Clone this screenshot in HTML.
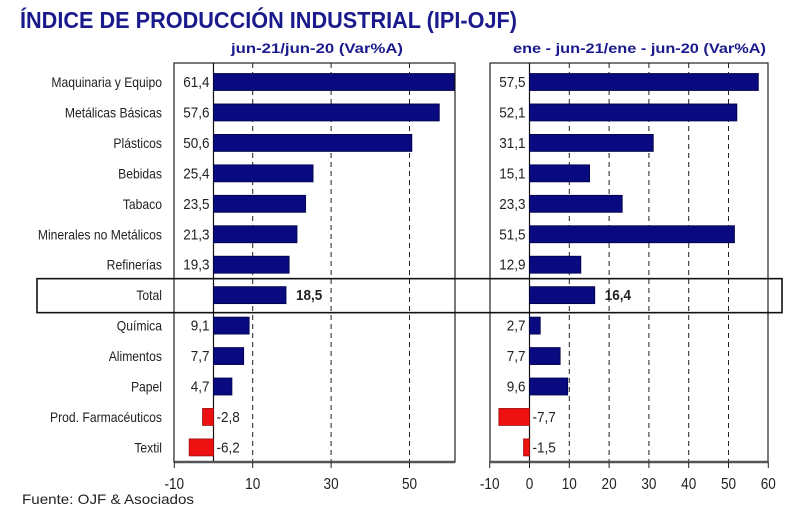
<!DOCTYPE html>
<html><head><meta charset="utf-8"><style>
body{margin:0;background:#fff;}
svg{display:block;font-family:"Liberation Sans",Arial,sans-serif;}
</style></head><body>
<svg id="c" width="800" height="526" viewBox="0 0 800 526">
<text x="20" y="28" font-size="23" font-weight="bold" fill="#1a1a8c" textLength="497" lengthAdjust="spacingAndGlyphs">ÍNDICE DE PRODUCCIÓN INDUSTRIAL (IPI-OJF)</text>
<text x="231" y="53" font-size="14" font-weight="bold" fill="#1a1a8c" textLength="172" lengthAdjust="spacingAndGlyphs">jun-21/jun-20  (Var%A)</text>
<text x="513" y="53" font-size="14" font-weight="bold" fill="#1a1a8c" textLength="253" lengthAdjust="spacingAndGlyphs">ene - jun-21/ene - jun-20  (Var%A)</text>
<g id="g"></g>
<text x="22" y="504" font-size="14" fill="#222" textLength="172" lengthAdjust="spacingAndGlyphs">Fuente: OJF &amp; Asociados</text>
</svg>
<script>
const categories=["Maquinaria y Equipo","Metálicas Básicas","Plásticos","Bebidas","Tabaco","Minerales no Metálicos","Refinerías","Total","Química","Alimentos","Papel","Prod. Farmacéuticos","Textil"];
const leftValues=[61.4,57.6,50.6,25.4,23.5,21.3,19.3,18.5,9.1,7.7,4.7,-2.8,-6.2];
const rightValues=[57.5,52.1,31.1,15.1,23.3,51.5,12.9,16.4,2.7,7.7,9.6,-7.7,-1.5];
const leftLabels=["61,4","57,6","50,6","25,4","23,5","21,3","19,3","18,5","9,1","7,7","4,7","-2,8","-6,2"];
const rightLabels=["57,5","52,1","31,1","15,1","23,3","51,5","12,9","16,4","2,7","7,7","9,6","-7,7","-1,5"];
const leftTicks=[-10,10,30,50];
const leftGrid=[10,30,50];
const rightTicks=[-10,0,10,20,30,40,50,60];
const rightGrid=[10,20,30,40,50];
const totalIndex=7;
const NS="http://www.w3.org/2000/svg";
const g=document.getElementById('g');
function el(t,a,txt,parent){const e=document.createElementNS(NS,t);for(const k in a)e.setAttribute(k,a[k]);if(txt!==undefined)e.textContent=txt;(parent||g).appendChild(e);return e;}
const top0=63,bot=462,rowY0=82,step=30.45,barH=17;
function rowY(i){return rowY0+i*step;}
function narrowText(x,y,size,anchor,txt,sx,weight){
 const w=el('g',{transform:`translate(${x},${y}) scale(${sx},1)`});
 return el('text',{x:0,y:0,'font-size':size,'text-anchor':anchor,fill:'#222','font-weight':weight||'normal'},txt,w);
}
const panels=[
 {name:'left',x0:174,x1:455,zero:213.5,s:3.92,vals:leftValues,labs:leftLabels,ticks:leftTicks,grid:leftGrid},
 {name:'right',x0:490,x1:768,zero:529.5,s:3.98,vals:rightValues,labs:rightLabels,ticks:rightTicks,grid:rightGrid}
];
panels.forEach(p=>{
 const X=v=>p.zero+v*p.s;
 let e=el('rect',{x:p.x0,y:top0,width:p.x1-p.x0,height:bot-top0,fill:'#fff',stroke:'#222','stroke-width':1.2});
 
 
 p.grid.forEach(v=>{
  const l=el('line',{x1:X(v),x2:X(v),y1:top0,y2:bot,stroke:'#222','stroke-width':1,'stroke-dasharray':'5,4'});
  
  
 });
 e=el('line',{x1:X(0),x2:X(0),y1:top0,y2:bot,stroke:'#111','stroke-width':1.2});
 
 
 e=el('line',{x1:p.x0,x2:p.x1,y1:bot,y2:bot,stroke:'#555','stroke-width':2.5});
 
 
 p.ticks.forEach(v=>{
  const t=el('line',{x1:X(v),x2:X(v),y1:bot,y2:bot+6,stroke:'#222'});
  
  
  const tx=narrowText(X(v),bot+27,16,'middle',String(v),0.85);
  
  
 });
 p.vals.forEach((v,i)=>{
  const y=rowY(i);
  const neg=v<0;
  const r=el('rect',{x:Math.min(X(0),X(v)),y:y-barH/2,width:Math.min(Math.abs(X(v)-X(0)),p.x1-X(0)),height:barH,fill:neg?'#ee1111':'#0a0a80',stroke:neg?'#991111':'#000044','stroke-width':0.8});
  
  
  let t;
  if(i===totalIndex) t=narrowText(X(v)+10,y+5,15,'start',p.labs[i],0.9,'bold');
  else if(neg) t=narrowText(X(0)+3,y+5,15,'start',p.labs[i],0.9);
  else t=narrowText(X(0)-4,y+5,15,'end',p.labs[i],0.9);
  
  
 });
});
categories.forEach((c,i)=>{
 const t=narrowText(162,rowY(i)+5,13.5,'end',c,0.9);
 
 
});
const tb=el('rect',{x:37,y:rowY(totalIndex)-16.5,width:745,height:34,fill:'none',stroke:'#111','stroke-width':1.6});


</script>
</body></html>
